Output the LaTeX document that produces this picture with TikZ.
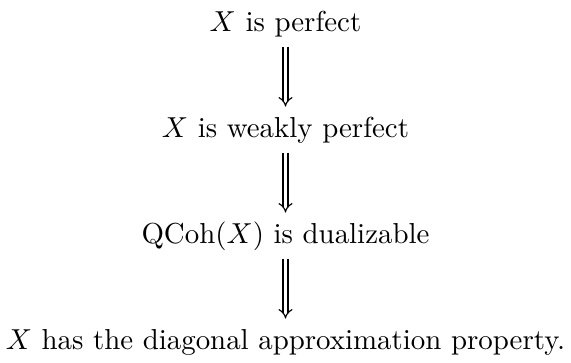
\documentclass[tikz,border=0pt]{standalone}
\usepackage{amsmath}
\usepackage{tikz}
\usetikzlibrary{positioning, arrows.meta}

\begin{document}
\begin{tikzpicture}[
        node distance=22.9pt,
        stmt/.style={align=center, inner sep=2pt, text height=6.9pt, text depth=2.5pt},
        implies/.style={double, double distance=1.3pt, line width=0.4pt, -{Implies}, shorten <=0.6pt, shorten >=1.5pt}
    ]
        % Statements
        \node[stmt] (perf) {$X$ is perfect};
        \node[stmt, below=of perf] (weak) {$X$ is weakly perfect};
        \node[stmt, below=of weak] (dual) {$\operatorname{QCoh}(X)$ is dualizable};
        \node[stmt, below=of dual] (diag) {$X$ has the diagonal approximation property.};

        % Implications
        \draw[implies] (perf) -- (weak);
        \draw[implies] (weak) -- (dual);
        \draw[implies] (dual) -- (diag);

        \useasboundingbox ([xshift=1.5pt, yshift=1.7pt]perf.north -| diag.west) rectangle ([xshift=-1.5pt, yshift=3.1pt]diag.south east);
    \end{tikzpicture}
\end{document}
